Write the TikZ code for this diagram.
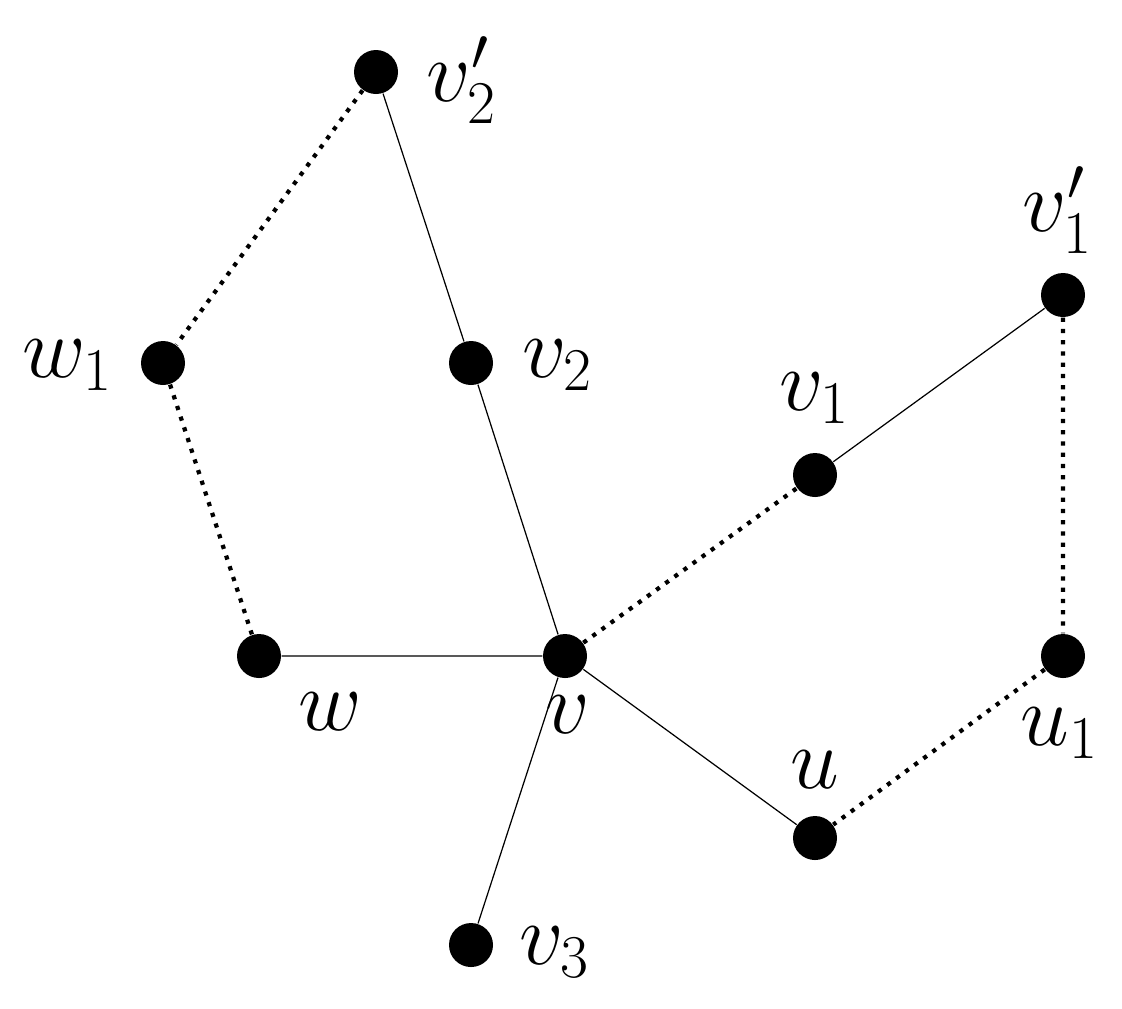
\documentclass[tikz,border=0pt]{standalone}
\begin{document}
\begin{tikzpicture}[x=0.1mm,y=-0.1mm,
  dot/.style={circle,fill=black,inner sep=0pt,minimum size=4.4mm},
  lab/.style={font=\fontsize{24}{28}\selectfont},
  solidedge/.style={line width=0.35pt},
  dotedge/.style={line width=1.2pt,dotted}]
\useasboundingbox (0,0) rectangle (1122,1008);
\node[dot] (v2p) at (376,72) {};
\node[dot] (w1) at (163,363) {};
\node[dot] (v2) at (471,363) {};
\node[dot] (v1p) at (1063,295) {};
\node[dot] (v1) at (815,475) {};
\node[dot] (w) at (259,656) {};
\node[dot] (v) at (565,656) {};
\node[dot] (u1) at (1063,656) {};
\node[dot] (u) at (815,838) {};
\node[dot] (v3) at (471,945) {};
\node[lab] (lv2p) at (462,80) {$v_2'$};
\node[lab] (lw1) at (68,365) {$w_1$};
\node[lab] (lv2) at (558,365) {$v_2$};
\node[lab] (lv1p) at (1058,210) {$v_1'$};
\node[lab] (lv1) at (815,398) {$v_1$};
\node[lab] (lw) at (330,712) {$w$};
\node[lab] (lv) at (568,715) {$v$};
\node[lab] (lu1) at (1060,733) {$u_1$};
\node[lab] (lu) at (815,770) {$u$};
\node[lab] (lv3) at (555,952) {$v_3$};
\draw[solidedge] (v2p)--(v2) (v2)--(v) (w)--(v) (v)--(v3) (v)--(u) (v1)--(v1p);
\draw[dotedge] (v2p)--(w1) (w1)--(w) (v)--(v1) (v1p)--(u1) (u1)--(u);
\end{tikzpicture}
\end{document}
